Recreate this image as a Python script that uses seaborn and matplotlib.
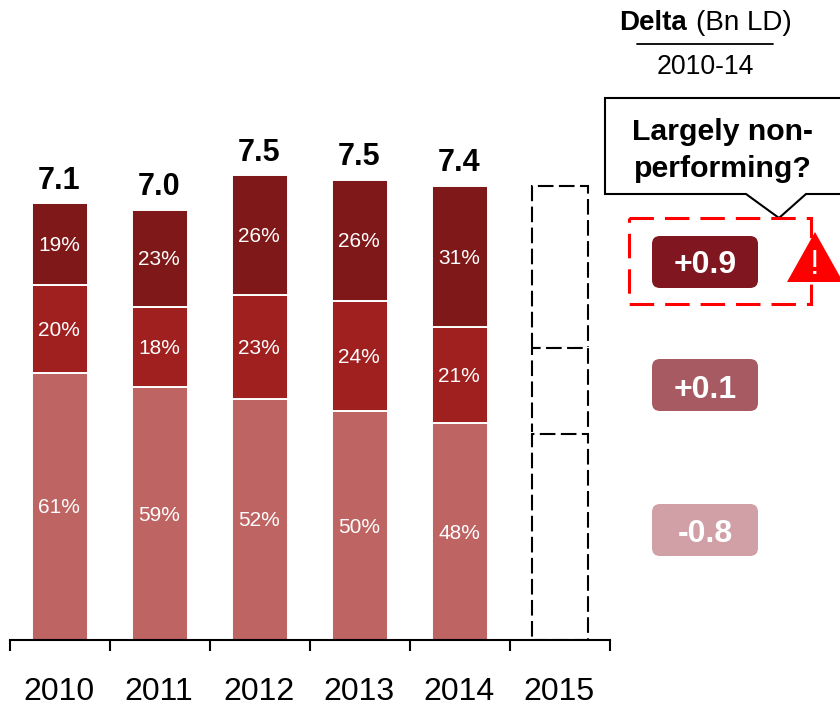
import matplotlib.pyplot as plt
from matplotlib.patches import FancyBboxPatch, Polygon, Rectangle
import numpy as np
import pandas as pd
import seaborn as sns

sns.set_theme(style='white')
plt.rcParams['font.family'] = ['Liberation Sans', 'DejaVu Sans']

YEARS = ['2010', '2011', '2012', '2013', '2014', '2015']
TOTALS = ['7.1', '7.0', '7.5', '7.5', '7.4']

# segment sizes, bottom to top
LOW = [4.35, 4.12, 3.93, 3.73, 3.53]
MID = [1.43, 1.30, 1.69, 1.79, 1.56]
HIGH = [1.33, 1.59, 1.95, 1.98, 2.31]
LOW_PCT = ['61%', '59%', '52%', '50%', '48%']
MID_PCT = ['20%', '18%', '23%', '24%', '21%']
HIGH_PCT = ['19%', '23%', '26%', '26%', '31%']

# 2015 is an empty dashed bar
EMPTY_2015 = [3.36, 1.40, 2.64]

DELTAS = ['+0.9', '+0.1', '-0.8']
DELTA_COLORS = ['#7f1620', '#a85a63', '#d0a0a6']
SEG_COLORS = ['#be6463', '#a02020', '#7f1818']

DASH = (0, (7.5, 2.6))

fig = plt.figure(figsize=(8.4, 7.06), dpi=100)
ax = fig.add_axes([0, 0, 1, 1])
ax.patch.set_alpha(0)

# stacked bars
bottom = np.zeros(len(LOW))
for values, labels, color in zip([LOW, MID, HIGH], [LOW_PCT, MID_PCT, HIGH_PCT], SEG_COLORS):
    df = pd.DataFrame({'year': YEARS[:5], 'value': values})
    sns.barplot(data=df, x='year', y='value', order=YEARS, color=color, saturation=1,
                width=0.56, bottom=bottom, edgecolor='white', linewidth=1.4,
                errorbar=None, ax=ax)
    for i, (v, label) in enumerate(zip(values, labels)):
        ax.text(i - 0.01, bottom[i] + v / 2 - 0.025, label, color='white', fontsize=15,
                ha='center', va='center')
    bottom = bottom + np.array(values)

for i, label in enumerate(TOTALS):
    ax.annotate(label, (i - 0.01, bottom[i]), xytext=(0, 16), textcoords='offset points',
                fontsize=22, fontweight='bold', color='black', ha='center', va='center')

# dashed 2015 bar, each part clipped so a shared edge is only drawn once
base = 0.0
for v in EMPTY_2015:
    n_before = len(ax.patches)
    df = pd.DataFrame({'year': ['2015'], 'value': [v]})
    sns.barplot(data=df, x='year', y='value', order=YEARS, color='black', fill=False,
                width=0.56, bottom=[base], linewidth=1.5, linestyle=DASH,
                errorbar=None, ax=ax)
    for p in ax.patches[n_before:]:
        p.set_clip_path(Rectangle((4, base + 0.02), 2, v + 1, transform=ax.transData))
    base += v

# x axis in px terms: category 0 centre at 60 px, 100 px per category; 61.4 px per unit
ax.set_xlim(-0.6, 7.8)
ax.set_ylim(-66 / 61.4, 640 / 61.4)
ax.set_xlabel('')
ax.set_ylabel('')
ax.set_yticks([])
ax.grid(False)
for side in ['top', 'left', 'right']:
    ax.spines[side].set_visible(False)
ax.spines['bottom'].set_position(('data', 0))
ax.spines['bottom'].set_bounds(-0.5, 5.5)
ax.spines['bottom'].set_linewidth(1.5)
ax.spines['bottom'].set_color('black')
ax.spines['bottom'].set_zorder(5)
ax.set_xticks(np.arange(-0.5, 6, 1))
ax.set_xticklabels([])
ax.set_xticks(np.arange(6) - 0.01, labels=YEARS, minor=True)
ax.tick_params(axis='x', which='major', bottom=True, length=8, width=1.5, color='black')
ax.tick_params(axis='x', which='minor', bottom=False, length=0, pad=26.3, labelsize=23,
               labelcolor='black')

# right hand panel, drawn in pixel coordinates
panel = fig.add_axes([0, 0, 1, 1])
panel.set_xlim(0, 840)
panel.set_ylim(706, 0)
panel.axis('off')

panel.text(687, 23, 'Delta', fontsize=20, fontweight='bold', color='black', ha='right', va='center')
panel.text(696, 23, '(Bn LD)', fontsize=20, color='black', ha='left', va='center')
panel.plot([637, 773], [43.5, 43.5], color='black', lw=1.3)
panel.text(705, 67, '2010-14', fontsize=19.2, color='black', ha='center', va='center')

# callout
panel.add_patch(Polygon([(605, 98), (845, 98), (845, 194), (806, 194), (779, 218), (746, 194), (605, 194)],
                        closed=True, facecolor='white', edgecolor='black', lw=1.5, zorder=2))
panel.text(723, 132, 'Largely non-', fontsize=21.8, fontweight='bold', color='black',
           ha='center', va='center', zorder=3)
panel.text(723, 169, 'performing?', fontsize=21.8, fontweight='bold', color='black',
           ha='center', va='center', zorder=3)

# red dashed box and warning sign
panel.add_patch(Rectangle((629, 218), 182, 86, fill=False, edgecolor='red', lw=2.2,
                          linestyle=(0, (8, 3.6)), zorder=4))
panel.add_patch(Polygon([(815, 232), (843, 282), (787, 282)], closed=True, facecolor='red',
                        edgecolor='none', zorder=5))
panel.text(815, 265, '!', fontsize=25, color='white', ha='center', va='center', zorder=6)

# delta badges
for label, color, y, text_y in zip(DELTAS, DELTA_COLORS, [262, 385, 530], [265, 390, 534]):
    panel.add_patch(FancyBboxPatch((658, y - 20), 94, 40, boxstyle='round,pad=6,rounding_size=8',
                                   facecolor=color, edgecolor='none', zorder=3))
    panel.text(705, text_y, label, fontsize=23, fontweight='bold', color='white',
               ha='center', va='center', zorder=4)

fig.savefig('out.png', dpi=100)
